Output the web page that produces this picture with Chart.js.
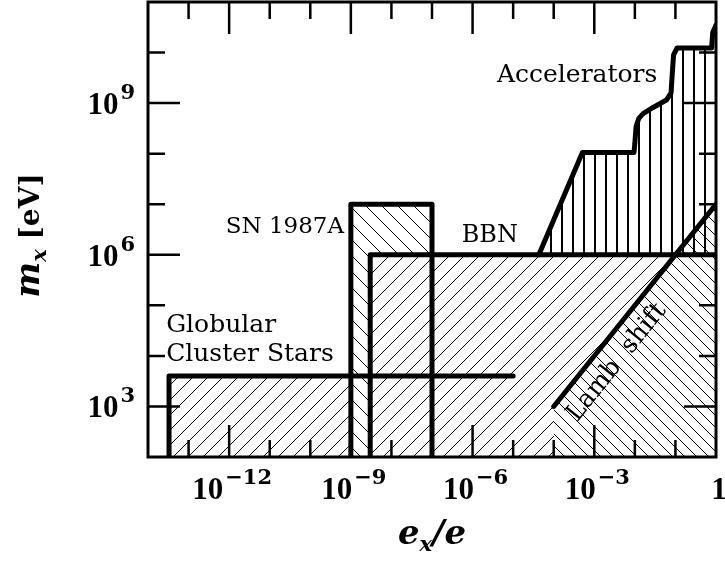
<!DOCTYPE html>
<html>
<head>
<meta charset="utf-8">
<script src="https://cdn.jsdelivr.net/npm/chart.js@4"></script>
<style>
  html, body { margin: 0; padding: 0; background: #fff; }
  canvas { display: block; }
</style>
</head>
<body>
<canvas id="limits" width="725" height="562"></canvas>
<script>
// excluded regions: x = e_x/e, y = m_x in eV
const globularX = [3.3e-14, 3.3e-14, 1e-5];
const globularM = [1e2, 4e3, 4e3];
const supernovaX = [1e-9, 1e-9, 1e-7, 1e-7];
const supernovaM = [1e2, 1e7, 1e7, 1e2];
const bbnX = [3e-9, 3e-9, 1];
const bbnM = [1e2, 1e6, 1e6];
const lambX = [1e-4, 1];
const lambM = [1e3, 1e7];
const accelX = [4.3e-5, 5.1e-4, 9.5e-3, 1.0e-2, 1.07e-2, 1.25e-2, 1.6e-2, 2.75e-2, 6e-2, 7.8e-2, 8.3e-2, 9e-2, 0.11, 0.78, 0.83, 1];
const accelM = [1e6, 1.05e8, 1.05e8, 1.6e8, 3.4e8, 5e8, 6.2e8, 8.1e8, 1.15e9, 1.6e9, 3.5e9, 9e9, 1.23e10, 1.23e10, 2.5e10, 3.5e10];

const xTicks = [1e-12, 1e-9, 1e-6, 1e-3, 1];
const xTickLabels = [['10', '\u221212'], ['10', '\u22129'], ['10', '\u22126'], ['10', '\u22123'], ['1', '']];
const yTicks = [1e3, 1e6, 1e9];
const yTickLabels = [['10', '3'], ['10', '6'], ['10', '9']];

function points(xs, ys) {
  return xs.map((x, i) => ({ x: x, y: ys[i] }));
}

// small tiles repeated as fill patterns
function hatch(size, kind, opaque) {
  const c = document.createElement('canvas');
  c.width = size;
  c.height = size;
  const g = c.getContext('2d');
  if (opaque) {
    g.fillStyle = '#fff';
    g.fillRect(0, 0, size, size);
  }
  g.fillStyle = '#000';
  if (kind === '|') {
    g.fillRect(0, 0, 2, size);
  } else {
    for (let i = 0; i < size; i++) {
      g.fillRect(i, kind === '/' ? size - 1 - i : i, 1, 1);
    }
  }
  return g.createPattern(c, 'repeat');
}

function region(xs, ys, pattern, fill) {
  return {
    data: points(xs, ys),
    borderColor: '#000',
    borderWidth: 5,
    borderJoinStyle: 'round',
    borderCapStyle: 'round',
    backgroundColor: pattern,
    fill: fill,
    pointRadius: 0,
    tension: 0,
    clip: 0
  };
}

const labels = [
  { text: 'Accelerators', x: 4e-6, y: 2.6e9, align: 'left', size: 25 },
  { text: 'SN 1987A', x: 6.8e-10, y: 2.7e6, align: 'right', size: 23 },
  { text: 'BBN', x: 5.4e-7, y: 1.8e6, align: 'left', size: 24 },
  { text: 'Globular', x: 2.8e-14, y: 3.0e4, align: 'left', size: 25 },
  { text: 'Cluster Stars', x: 2.8e-14, y: 7.8e3, align: 'left', size: 25 }
];

function drawPower(ctx, base, exp, x, y, align) {
  const baseFont = 'bold 31px "Liberation Serif"';
  const expFont = 'bold 21px "DejaVu Serif"';
  ctx.font = baseFont;
  const wb = ctx.measureText(base).width;
  ctx.font = expFont;
  const we = exp ? ctx.measureText(exp).width + 2 : 0;
  let left = x;
  if (align === 'center') left = x - (wb + we) / 2;
  if (align === 'right') left = x - wb - we;
  ctx.textAlign = 'left';
  ctx.textBaseline = 'alphabetic';
  ctx.font = baseFont;
  ctx.fillText(base, left, y);
  if (exp) {
    ctx.font = expFont;
    ctx.fillText(exp, left + wb + 2, y - 15);
  }
}

const framePlugin = {
  id: 'frame',
  afterDatasetsDraw(chart) {
    const ctx = chart.ctx;
    const a = chart.chartArea;
    const xs = chart.scales.x;
    const ys = chart.scales.y;
    ctx.save();
    ctx.fillStyle = '#000';
    ctx.strokeStyle = '#000';

    // region names
    labels.forEach(l => {
      ctx.font = l.size + 'px "DejaVu Serif"';
      ctx.textAlign = l.align;
      ctx.textBaseline = 'alphabetic';
      ctx.fillText(l.text, xs.getPixelForValue(l.x), ys.getPixelForValue(l.y));
    });
    ctx.save();
    ctx.font = '25px "DejaVu Serif"';
    ctx.translate(xs.getPixelForValue(3.6e-3), ys.getPixelForValue(7.4e3));
    ctx.rotate(-51.4 * Math.PI / 180);
    ctx.textAlign = 'center';
    ctx.textBaseline = 'middle';
    ctx.fillText('Lamb  shift', 0, 0);
    ctx.restore();

    // box with inward ticks on all sides
    ctx.lineWidth = 3;
    ctx.strokeRect(a.left, a.top, a.right - a.left, a.bottom - a.top);
    ctx.lineWidth = 2.5;
    const isMajor = (list, e) => list.some(v => Math.abs(Math.log10(v) - e) < 1e-6);
    ctx.beginPath();
    for (let e = -13; e < 0; e++) {
      const px = xs.getPixelForValue(Math.pow(10, e));
      const len = isMajor(xTicks, e) ? 32 : 17;
      ctx.moveTo(px, a.bottom); ctx.lineTo(px, a.bottom - len);
      ctx.moveTo(px, a.top); ctx.lineTo(px, a.top + len);
    }
    for (let e = 3; e < 11; e++) {
      const py = ys.getPixelForValue(Math.pow(10, e));
      const len = isMajor(yTicks, e) ? 32 : 17;
      ctx.moveTo(a.left, py); ctx.lineTo(a.left + len, py);
      ctx.moveTo(a.right, py); ctx.lineTo(a.right - len, py);
    }
    ctx.stroke();

    // tick labels
    xTicks.forEach((v, i) => {
      drawPower(ctx, xTickLabels[i][0], xTickLabels[i][1], xs.getPixelForValue(v) + 3, a.bottom + 42, 'center');
    });
    yTicks.forEach((v, i) => {
      drawPower(ctx, yTickLabels[i][0], yTickLabels[i][1], a.left - 13, ys.getPixelForValue(v) + 11, 'right');
    });

    // axis titles
    const it = 'bold italic 34px "DejaVu Serif"';
    const sub = 'bold italic 21px "DejaVu Serif"';
    const up = 'bold 28px "DejaVu Serif"';
    ctx.textAlign = 'left';
    ctx.textBaseline = 'alphabetic';

    ctx.font = it; const we1 = ctx.measureText('e').width;
    ctx.font = sub; const wx1 = ctx.measureText('x').width;
    ctx.font = it; const we2 = ctx.measureText('/e').width;
    let x0 = (a.left + a.right) / 2 - (we1 + wx1 + we2) / 2;
    const yb = 544;
    ctx.font = it; ctx.fillText('e', x0, yb);
    ctx.font = sub; ctx.fillText('x', x0 + we1, yb + 7);
    ctx.font = it; ctx.fillText('/e', x0 + we1 + wx1, yb);

    ctx.save();
    ctx.translate(39, (a.top + a.bottom) / 2 + 6);
    ctx.rotate(-Math.PI / 2);
    ctx.font = it; const wm = ctx.measureText('m').width;
    ctx.font = sub; const wx2 = ctx.measureText('x').width;
    ctx.font = up; const wev = ctx.measureText(' [eV]').width;
    x0 = -(wm + wx2 + wev) / 2;
    ctx.font = it; ctx.fillText('m', x0, 0);
    ctx.font = sub; ctx.fillText('x', x0 + wm, 7);
    ctx.font = up; ctx.fillText(' [eV]', x0 + wm + wx2, 0);
    ctx.restore();

    ctx.restore();
  }
};

new Chart(document.getElementById('limits'), {
  type: 'line',
  data: {
    datasets: [
      region(accelX, accelM, hatch(11, '|', false), { value: 1e6 }),
      region(lambX, lambM, hatch(12, '\\', true), 'start'),
      region(bbnX, bbnM, hatch(15, '/', true), 'start'),
      region(supernovaX, supernovaM, hatch(16, '\\', true), 'start'),
      region(globularX, globularM, hatch(15, '/', true), 'start')
    ]
  },
  options: {
    responsive: false,
    animation: false,
    devicePixelRatio: 1,
    events: [],
    layout: { padding: { top: 2, right: 9, left: 0, bottom: 0 } },
    scales: {
      x: {
        type: 'logarithmic', min: 1e-14, max: 1,
        ticks: { display: false }, grid: { display: false }, border: { display: false },
        afterFit(s) { s.height = 105; }
      },
      y: {
        type: 'logarithmic', min: 1e2, max: 1e11,
        ticks: { display: false }, grid: { display: false }, border: { display: false },
        afterFit(s) { s.width = 148; }
      }
    },
    plugins: {
      legend: { display: false },
      tooltip: { enabled: false },
      filler: { drawTime: 'beforeDatasetsDraw' }
    }
  },
  plugins: [framePlugin]
});
</script>
</body>
</html>
